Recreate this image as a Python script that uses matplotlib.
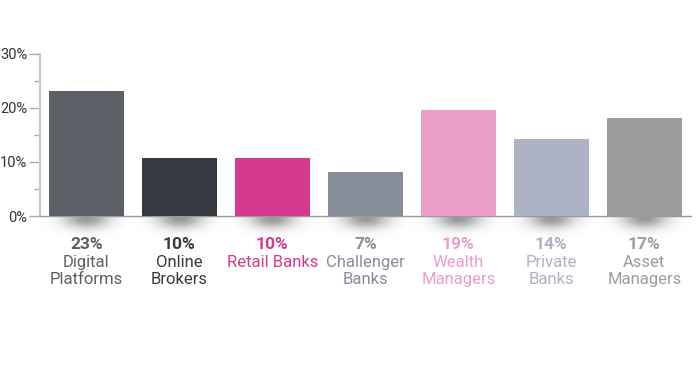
import numpy as np
import matplotlib.pyplot as plt
import matplotlib.transforms as mtransforms

plt.rcParams['font.family'] = ['Roboto', 'DejaVu Sans']

# data
categories = ["Digital\nPlatforms", "Online\nBrokers", "Retail Banks", "Challenger\nBanks",
              "Wealth\nManagers", "Private\nBanks", "Asset\nManagers"]
values = [23.1, 10.7, 10.7, 8.1, 19.6, 14.3, 18.1]
pct_labels = ["23%", "10%", "10%", "7%", "19%", "14%", "17%"]
colors = ["#5a6066", "#343a40", "#d63a8e", "#878d99", "#eb9ec9", "#adb3c4", "#9a9c9e"]
yticks = [0, 10, 20, 30]
ytick_labels = ["0%", "10%", "20%", "30%"]

fig = plt.figure(figsize=(7, 3.76), dpi=100)
ax = fig.add_axes([0.057, 0.4255, 0.93, 0.431])

x = np.arange(len(values))
ax.bar(x, values, width=0.8, color=colors, zorder=3)

# soft shadow under each bar
gx = np.linspace(-1, 1, 100)
gy = np.linspace(0, 1, 50)
GX, GY = np.meshgrid(gx, gy)
alpha = np.exp(-(GX / 0.48) ** 2 - ((GY - 0.05) / 0.38) ** 2) * 0.7
shadow = np.zeros((50, 100, 4))
shadow[..., :3] = 0.42
shadow[..., 3] = alpha
for xi in x:
    ax.imshow(shadow, extent=(xi - 0.5, xi + 0.5, -5.0, -0.2), origin='upper',
              aspect='auto', clip_on=False, zorder=1, interpolation='bilinear')

ax.set_xlim(-0.5, 6.5)
ax.set_ylim(0, 30)

for s in ['top', 'right']:
    ax.spines[s].set_visible(False)
ax.spines['left'].set_color('#c8c8c8')
ax.spines['left'].set_linewidth(1.5)
ax.spines['bottom'].set_color('#999999')
ax.spines['bottom'].set_linewidth(1.0)

ax.set_xticks([])
ax.set_yticks(yticks)
ax.set_yticklabels(ytick_labels, fontsize=10.5, color='#333333')
ax.set_yticks([5, 15, 25], minor=True)
ax.tick_params(axis='y', which='major', length=8, color='#aaaaaa', width=1, pad=1)
ax.tick_params(axis='y', which='minor', length=4, color='#aaaaaa', width=1)

trans = mtransforms.blended_transform_factory(ax.transData, fig.transFigure)
for xi, pct, name, c in zip(x, pct_labels, categories, colors):
    ax.text(xi, 1 - 245 / 376, pct, transform=trans, ha='center', va='center',
            fontsize=12.5, fontweight='bold', color=c)
    ax.text(xi, 1 - 255 / 376, name, transform=trans, ha='center', va='top',
            fontsize=12, color=c, linespacing=1.15)

fig.savefig("out.png", dpi=100)
